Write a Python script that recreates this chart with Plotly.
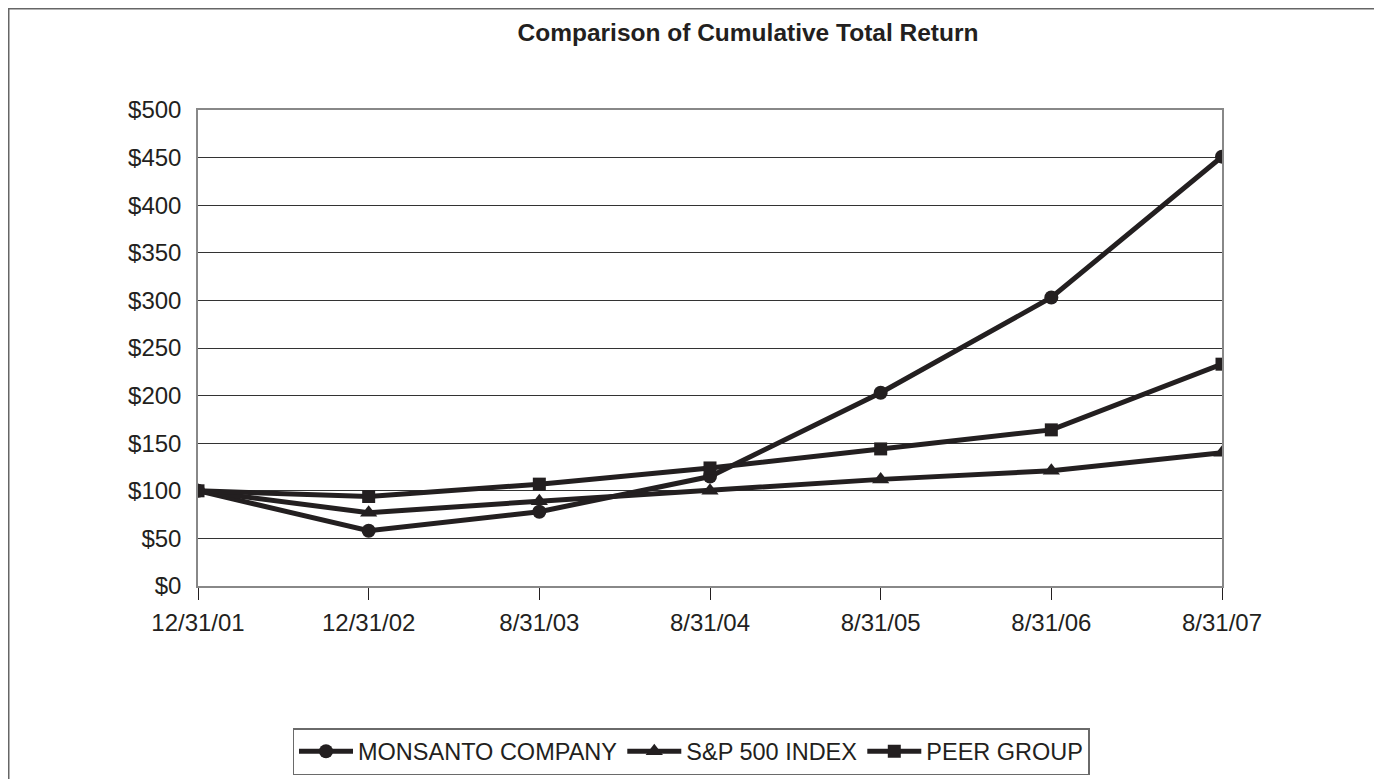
import plotly.graph_objects as go

categories = ["12/31/01", "12/31/02", "8/31/03", "8/31/04", "8/31/05", "8/31/06", "8/31/07"]
monsanto = [100, 58, 78, 115, 203, 303, 451]
sp500 = [100, 77, 89, 100, 112, 121, 140]
peer = [100, 94, 107, 124, 144, 164, 233]
y_tickvals = [0, 50, 100, 150, 200, 250, 300, 350, 400, 450, 500]
y_ticktext = ["$" + str(v) for v in y_tickvals]

INK = "#231f20"
FONT = "Liberation Sans, Arial, sans-serif"

fig = go.Figure()
series = [
    ("MONSANTO COMPANY", monsanto, "circle", 14),
    ("S&P 500 INDEX", sp500, "triangle-up", 15),
    ("PEER GROUP", peer, "square", 13),
]
for name, vals, sym, sz in series:
    fig.add_trace(go.Scatter(
        x=categories, y=vals, name=name, mode="lines+markers",
        line=dict(color=INK, width=5),
        marker=dict(symbol=sym, size=sz, color=INK),
    ))

# page offset of the figure (body margin)
OX, OY = 8, 8
W, H = 1382 - OX, 830
# plot area in page coordinates
L, R, T, B = 198 - OX, 1222 - OX, 110 - OY, 586 - OY
pw, ph = R - L, B - T

def px(x_page):
    return (x_page - OX - L) / pw

def py(y_page):
    return (B - (y_page - OY)) / ph

fig.update_layout(
    width=W, height=H,
    margin=dict(l=L, r=W - R, t=T, b=H - B),
    paper_bgcolor="white", plot_bgcolor="white",
    font=dict(family=FONT, size=24, color=INK),
    title=dict(text="<b>Comparison of Cumulative Total Return</b>",
               x=px(748), xanchor="center", xref="paper",
               y=1 - (32 - OY) / H, yanchor="middle",
               font=dict(size=24.5, family=FONT, color=INK)),
    showlegend=True,
    legend=dict(orientation="h", x=px(691), xanchor="center",
                y=py(728), yanchor="top",
                bordercolor="#6a6a6a", borderwidth=1.5,
                font=dict(size=23.5, family=FONT, color=INK),
                itemwidth=54, tracegroupgap=0),
    xaxis=dict(type="category", range=[0, len(categories) - 1],
               showgrid=False, showline=True, linecolor="#888", linewidth=1.5,
               mirror=True, ticks="outside", ticklen=12, tickcolor=INK, tickwidth=1.2,
               tickfont=dict(size=24, family=FONT, color=INK), ticklabelstandoff=2),
    yaxis=dict(range=[0, 500], tickvals=y_tickvals, ticktext=y_ticktext,
               showgrid=True, gridcolor="#333", gridwidth=1.2,
               showline=True, linecolor="#888", linewidth=1.5, mirror=True,
               ticks="", zeroline=False, ticklabelstandoff=10,
               tickfont=dict(size=24, family=FONT, color=INK)),
    shapes=[dict(type="rect", xref="paper", yref="paper",
                 x0=px(8.75), x1=px(1380), y0=py(830), y1=py(8.75),
                 line=dict(color="#666", width=1.5), layer="below")],
)

fig.write_html("out.html")
